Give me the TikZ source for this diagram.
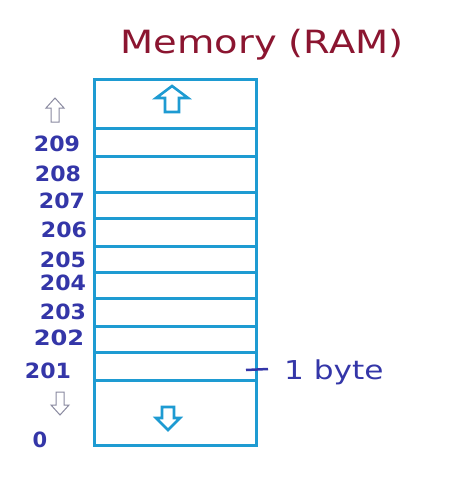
\documentclass[tikz,border=0pt]{standalone}
\usepackage{fontspec}
\setmainfont{DejaVu Sans}
\definecolor{titlered}{HTML}{8B1530}
\definecolor{inkblue}{HTML}{3436A8}
\definecolor{cellblue}{HTML}{1E9BD2}
\definecolor{arrgray}{HTML}{8A8AA0}
\tikzset{
  cell/.style={draw=cellblue, line width=3pt},
  addr/.style={text=inkblue, font=\fontsize{21}{21}\selectfont\bfseries, inner sep=0pt},
  bigarrow/.style={draw=cellblue, line width=2.6pt, line join=miter, fill=white},
  smallarrow/.style={draw=arrgray, line width=1pt, fill=white},
}
\begin{document}
\begin{tikzpicture}[x=1pt,y=-1pt]
\useasboundingbox[fill=white] (0,0) rectangle (473,479);
% title
\node[text=titlered, font=\fontsize{32}{32}\selectfont, inner sep=0pt] (title) at (262,45) {\scalebox{1.2}[1]{Memory (RAM)}};
% memory block
\draw[cell] (94,79) rectangle (256,445);
\foreach \y in {128,156,192,218,246,272,298,326,352,380}
  \draw[cell] (94,\y) -- (256,\y);
% big arrows in the block
\draw[bigarrow] (172,86) -- (188,98) -- (179,98) -- (179,112) -- (165,112) -- (165,98) -- (156,98) -- cycle;
\draw[bigarrow] (168,430) -- (180,418) -- (174,418) -- (174,407) -- (162,407) -- (162,418) -- (156,418) -- cycle;
% small arrows at left
\draw[smallarrow] (55,98) -- (64,108) -- (59,108) -- (59,122) -- (51,122) -- (51,108) -- (46,108) -- cycle;
\draw[smallarrow] (60,415) -- (69,405) -- (64,405) -- (64,392) -- (56,392) -- (56,405) -- (51,405) -- cycle;
% addresses
\node[addr] (a209) at (57,144) {\scalebox{1.05}[1]{209}};
\node[addr] (a208) at (58,174) {\scalebox{1.05}[1]{208}};
\node[addr] (a207) at (62,201) {\scalebox{1.05}[1]{207}};
\node[addr] (a206) at (64,230) {\scalebox{1.05}[1]{206}};
\node[addr] (a205) at (63,260) {\scalebox{1.05}[1]{205}};
\node[addr] (a204) at (63,283) {\scalebox{1.05}[1]{204}};
\node[addr] (a203) at (63,312) {\scalebox{1.05}[1]{203}};
\node[addr] (a202) at (59,338) {\scalebox{1.15}[1]{202}};
\node[addr] (a201) at (48,371) {\scalebox{1.05}[1]{201}};
\node[addr] (a0) at (40,440) {0};
% 1 byte label
\coordinate (tickA) at (246,370);
\node[text=inkblue, font=\fontsize{26}{26}\selectfont, inner sep=0pt, anchor=west] (byte) at (284,372) {\scalebox{1.2}[1]{1 byte}};
\coordinate (tickB) at (268,369);
\draw[inkblue, line width=2.5pt] (tickA) -- (tickB);
\end{tikzpicture}
\end{document}
